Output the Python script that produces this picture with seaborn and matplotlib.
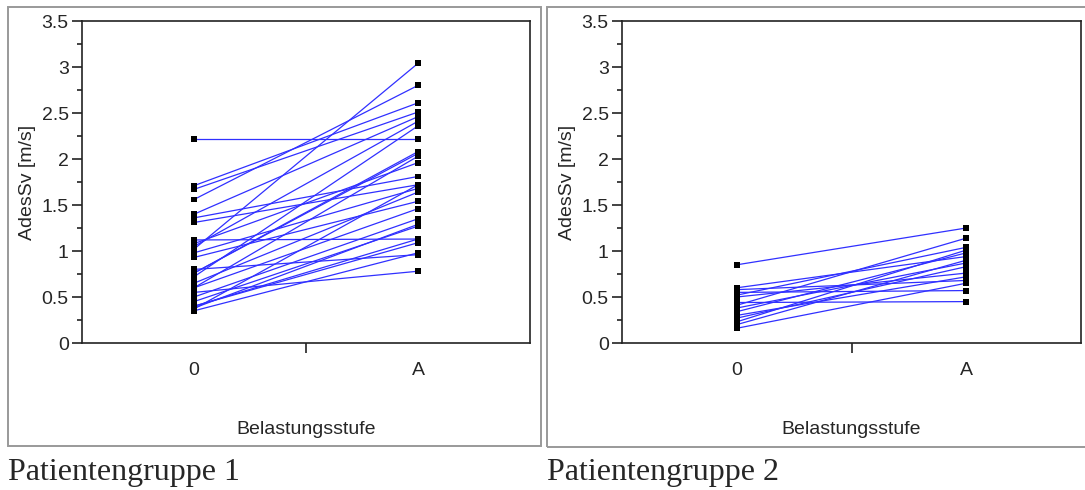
"""
AdesSv vor und unter Belastung, zwei Patientengruppen
Paired lines from stage 0 to stage A per patient
"""

import numpy as np
import pandas as pd
import matplotlib
matplotlib.use("Agg")
import matplotlib.pyplot as plt
from matplotlib.patches import Rectangle
import seaborn as sns

# Stage labels on the x axis
stages = ["0", "A"]

# Group 1: value at stage 0 and stage A for each patient (paired by index)
g1_stage0 = [2.22, 1.71, 1.67, 1.56, 1.40, 1.36, 1.31, 1.12, 1.08, 1.05,
             1.02, 0.98, 0.93, 0.80, 0.76, 0.76, 0.72, 0.65, 0.60, 0.60,
             0.55, 0.50, 0.45, 0.40, 0.40, 0.37, 0.35, 0.38]
g1_stageA = [2.22, 2.61, 2.51, 2.80, 2.46, 1.81, 1.72, 1.13, 1.96, 2.41,
             3.04, 1.68, 1.54, 0.96, 2.08, 2.06, 2.36, 1.64, 1.46, 2.03,
             0.78, 1.35, 1.27, 1.09, 1.13, 1.72, 0.98, 1.29]

# Group 2
g2_stage0 = [0.85, 0.60, 0.58, 0.55, 0.52, 0.50, 0.44, 0.41, 0.38, 0.34,
             0.30, 0.27, 0.23, 0.20, 0.16]
g2_stageA = [1.25, 0.94, 0.68, 0.57, 1.04, 0.76, 0.45, 1.14, 0.87, 0.98,
             0.72, 0.83, 1.01, 0.90, 0.65]

y_ticks = [0, 0.5, 1, 1.5, 2, 2.5, 3, 3.5]
y_tick_labels = ["0", "0.5", "1", "1.5", "2", "2.5", "3", "3.5"]
titles = ["Patientengruppe 1", "Patientengruppe 2"]

W, H = 1085, 490
LINE_BLUE = "#3030ff"

sns.set_style("white")
plt.rcParams["font.family"] = ["Liberation Sans", "DejaVu Sans"]


def long_df(stage0, stageA):
    rows = []
    for i, (a, b) in enumerate(zip(stage0, stageA)):
        rows.append({"patient": i, "pos": 0, "value": a})
        rows.append({"patient": i, "pos": 1, "value": b})
    return pd.DataFrame(rows)


def draw_panel(ax, df):
    sns.lineplot(data=df, x="pos", y="value", units="patient", estimator=None,
                 color=LINE_BLUE, lw=0.9, sort=False, legend=False, ax=ax)
    sns.scatterplot(data=df, x="pos", y="value", marker="s", color="black",
                    s=18, edgecolor="none", legend=False, ax=ax, zorder=3)

    ax.set_xlim(-0.5, 1.5)
    ax.set_ylim(0, 3.5)

    # category labels without tick marks, a single tick between them
    ax.set_xticks([0, 1], labels=stages)
    ax.set_xticks([0.5], minor=True)
    ax.tick_params(axis="x", which="major", length=0, pad=14, labelsize=14)
    ax.tick_params(axis="x", which="minor", bottom=True, length=7.5,
                   width=1.2, direction="out", color="#222222")

    ax.set_yticks(y_ticks, labels=y_tick_labels)
    ax.set_yticks(np.arange(0.25, 3.5, 0.5), minor=True)
    ax.tick_params(axis="y", which="major", left=True, length=7.5, width=1.2,
                   direction="out", pad=2, labelsize=14, color="#222222")
    ax.tick_params(axis="y", which="minor", left=True, length=3.8, width=1.2,
                   direction="out", color="#222222")

    ax.set_xlabel("Belastungsstufe", fontsize=14, labelpad=30)
    ax.set_ylabel("AdesSv [m/s]", fontsize=14, labelpad=4)

    for side in ["left", "bottom", "top", "right"]:
        ax.spines[side].set_visible(True)
        ax.spines[side].set_color("#222222")
        ax.spines[side].set_linewidth(1.2)


fig = plt.figure(figsize=(W / 100, H / 100), dpi=100)

ax1 = fig.add_axes([82 / W, 147 / H, 448 / W, 322 / H])
ax2 = fig.add_axes([622 / W, 147 / H, 459 / W, 322 / H])

draw_panel(ax1, long_df(g1_stage0, g1_stageA))
draw_panel(ax2, long_df(g2_stage0, g2_stageA))

# grey frames around each panel
frames = [(8, 7, 541, 446), (547, 7, 1095, 447)]
for x0, y0, x1, y1 in frames:
    fig.patches.append(Rectangle((x0 / W, 1 - y1 / H), (x1 - x0) / W, (y1 - y0) / H,
                                 transform=fig.transFigure, fill=False,
                                 edgecolor="#999999", lw=1.4, zorder=0))

# captions under the panels
for x, t in zip([8, 547], titles):
    fig.text(x / W, 1 - 480 / H, t, fontsize=23, family=["Liberation Serif"],
             ha="left", va="baseline")

fig.savefig("out.png", dpi=100)
